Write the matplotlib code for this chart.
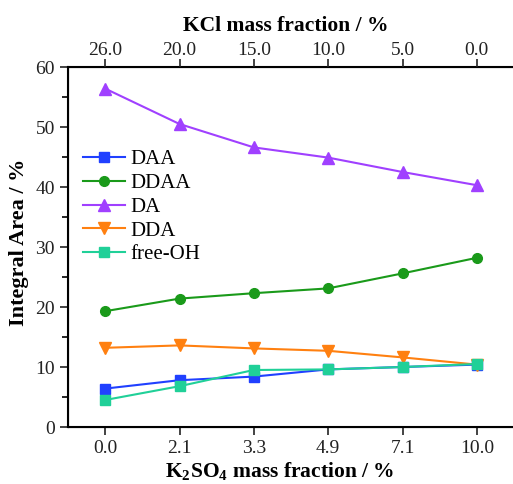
import matplotlib.pyplot as plt
from matplotlib.ticker import MultipleLocator

plt.rcParams['font.family'] = ['Liberation Serif', 'DejaVu Serif']
plt.rcParams['mathtext.fontset'] = 'custom'
plt.rcParams['mathtext.rm'] = 'Liberation Serif'
plt.rcParams['mathtext.bf'] = 'Liberation Serif:bold'

k2so4 = ["0.0", "2.1", "3.3", "4.9", "7.1", "10.0"]
kcl = ["26.0", "20.0", "15.0", "10.0", "5.0", "0.0"]

daa = [6.4, 7.8, 8.4, 9.6, 10.0, 10.4]
ddaa = [19.3, 21.4, 22.3, 23.1, 25.6, 28.2]
da = [56.4, 50.5, 46.6, 44.9, 42.5, 40.3]
dda = [13.2, 13.6, 13.1, 12.7, 11.6, 10.4]
free_oh = [4.5, 6.8, 9.5, 9.6, 10.0, 10.5]

fig = plt.figure(figsize=(5.13, 4.84), dpi=100)
ax = fig.add_axes([68/513, 1-427/484, 446/513, 360/484])

x = range(len(k2so4))
ax.plot(x, daa, '-s', color='#2040ff', ms=7, lw=1.5, label='DAA')
ax.plot(x, ddaa, '-o', color='#1a9a1a', ms=7, lw=1.5, label='DDAA')
ax.plot(x, da, '-^', color='#a040ff', ms=8, lw=1.5, label='DA')
ax.plot(x, dda, '-v', color='#ff8010', ms=8, lw=1.5, label='DDA')
ax.plot(x, free_oh, '-s', color='#20d098', ms=7, lw=1.5, label='free-OH')

ax.set_xlim(-0.5, 5.5)
ax.set_ylim(0, 60)
ax.set_xticks(list(x))
ax.set_xticklabels(k2so4)
ax.yaxis.set_major_locator(MultipleLocator(10))
ax.yaxis.set_minor_locator(MultipleLocator(5))
ax.tick_params(direction='out', length=6, width=1.2, labelsize=14, colors='#222222')
ax.tick_params(which='minor', direction='out', length=4, width=1.2)
for s in ax.spines.values():
    s.set_linewidth(1.5)
ax.spines['right'].set_visible(False)

ax.set_xlabel(r'K$_\mathbf{2}$SO$_\mathbf{4}$ mass fraction / %', fontsize=15.5, fontweight='bold')
ax.xaxis.set_label_coords(0.475, -0.092)
ax.set_ylabel('Integral Area / %', fontsize=16, fontweight='bold')
ax.yaxis.set_label_coords(-0.088, 0.514)

top = ax.twiny()
top.set_xlim(ax.get_xlim())
top.set_xticks(list(x))
top.set_xticklabels(kcl)
top.tick_params(direction='out', length=6, width=1.2, pad=0, labelsize=14, colors='#222222')
top.spines['right'].set_visible(False)
top.set_xlabel('KCl mass fraction / %', fontsize=15.5, fontweight='bold')
top.xaxis.set_label_coords(0.489, 1.10)

ax.legend(loc='upper left', bbox_to_anchor=(0.034, 0.77), frameon=False, fontsize=15,
          handlelength=2.0, handletextpad=0.25, labelspacing=0.2, borderpad=0, borderaxespad=0)

fig.savefig('out.png', dpi=100)
